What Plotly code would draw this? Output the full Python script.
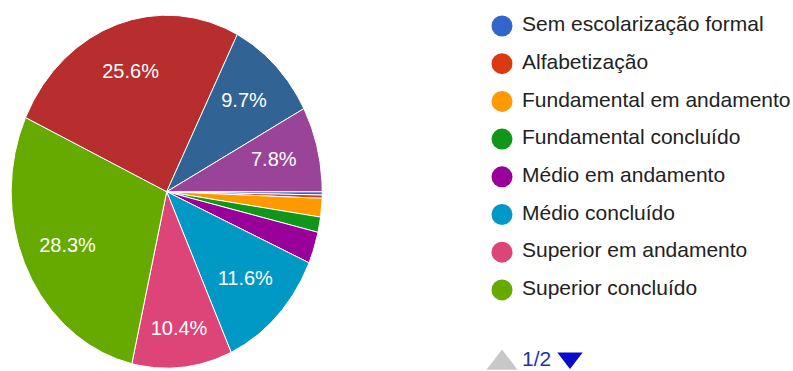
import math
import numpy as np
import plotly.graph_objects as go

# Education level of respondents (% of answers), in pie order
categories = [
    "Sem escolarização formal",
    "Alfabetização",
    "Fundamental em andamento",
    "Fundamental concluído",
    "Médio em andamento",
    "Médio concluído",
    "Superior em andamento",
    "Superior concluído",
    "Especialização",
    "Mestrado",
    "Doutorado",
]
percentages = [0.3, 0.3, 1.7, 1.4, 2.9, 11.6, 10.4, 28.3, 25.6, 9.7, 7.8]
colors = [
    "#3366cc", "#dc3912", "#ff9900", "#109618", "#990099", "#0099c6",
    "#dd4477", "#66aa00", "#b82e2e", "#316395", "#994499",
]
legend_page_size = 8

W, H = 793, 371
FONT = "Arial, Liberation Sans, sans-serif"

# pie geometry (pixel space), the disc is drawn slightly taller than wide
cx, cy = 166.7, 191.7
rx, ry = 155.5, 176.5
start_deg = 90.0
label_r = 0.71
label_r_override = {"Superior em andamento": 0.79}
min_label_pct = 5.0

fig = go.Figure()

total = float(sum(percentages))
angle = start_deg
label_x, label_y, label_t = [], [], []
for name, val, col in zip(categories, percentages, colors):
    span = val / total * 360.0
    a0, a1 = angle, angle + span
    n = max(3, int(span * 2) + 2)
    th = np.radians(np.linspace(a0, a1, n))
    xs = np.concatenate([[cx], cx + rx * np.sin(th), [cx]])
    ys = np.concatenate([[cy], cy - ry * np.cos(th), [cy]])
    fig.add_trace(go.Scatter(
        x=xs, y=ys, mode="lines", fill="toself", fillcolor=col,
        line=dict(color="white", width=1), name=name,
        hoverinfo="text", text=f"{name}: {val:.1f}%", showlegend=False,
    ))
    if val / total * 100 >= min_label_pct:
        mid = math.radians((a0 + a1) / 2)
        r = label_r_override.get(name, label_r)
        label_x.append(cx + r * rx * math.sin(mid))
        label_y.append(cy - r * ry * math.cos(mid))
        label_t.append(f"{val / total * 100:.1f}%")
    angle = a1

fig.add_trace(go.Scatter(
    x=label_x, y=label_y, mode="text", text=label_t,
    textfont=dict(family=FONT, size=20, color="white"),
    hoverinfo="skip", showlegend=False,
))

# legend, first page
page_items = list(range(min(legend_page_size, len(categories))))
leg_x, leg_y0, leg_dy = 502, 26, 37.7
ly = [leg_y0 + i * leg_dy for i in page_items]
fig.add_trace(go.Scatter(
    x=[leg_x] * len(page_items), y=ly, mode="markers",
    marker=dict(symbol="circle", size=21, color=[colors[i] for i in page_items], line=dict(width=0)),
    hoverinfo="skip", showlegend=False,
))
fig.add_trace(go.Scatter(
    x=[leg_x + 20] * len(page_items), y=ly, mode="text",
    text=[categories[i] for i in page_items], textposition="middle right",
    textfont=dict(family=FONT, size=21, color="#222222"),
    hoverinfo="skip", showlegend=False,
))

# pager
n_pages = math.ceil(len(categories) / legend_page_size)
pager_y = 361
fig.add_trace(go.Scatter(
    x=[leg_x], y=[pager_y + 2], mode="markers",
    marker=dict(symbol="triangle-up", size=27, color="#c8c8c8", line=dict(width=0)),
    hoverinfo="skip", showlegend=False,
))
fig.add_trace(go.Scatter(
    x=[leg_x + 20], y=[pager_y], mode="text", text=[f"1/{n_pages}"],
    textposition="middle right",
    textfont=dict(family=FONT, size=21, color="#2233aa"),
    hoverinfo="skip", showlegend=False,
))
fig.add_trace(go.Scatter(
    x=[leg_x + 68], y=[pager_y - 3], mode="markers",
    marker=dict(symbol="triangle-down", size=22, color="#0a0acc", line=dict(width=0)),
    hoverinfo="skip", showlegend=False,
))

fig.update_layout(
    width=W, height=H,
    margin=dict(l=0, r=0, t=0, b=0),
    paper_bgcolor="white", plot_bgcolor="white",
    showlegend=False,
    xaxis=dict(range=[0, W], visible=False, fixedrange=True),
    yaxis=dict(range=[H, 0], visible=False, fixedrange=True),
)

fig.write_html("out.html")
